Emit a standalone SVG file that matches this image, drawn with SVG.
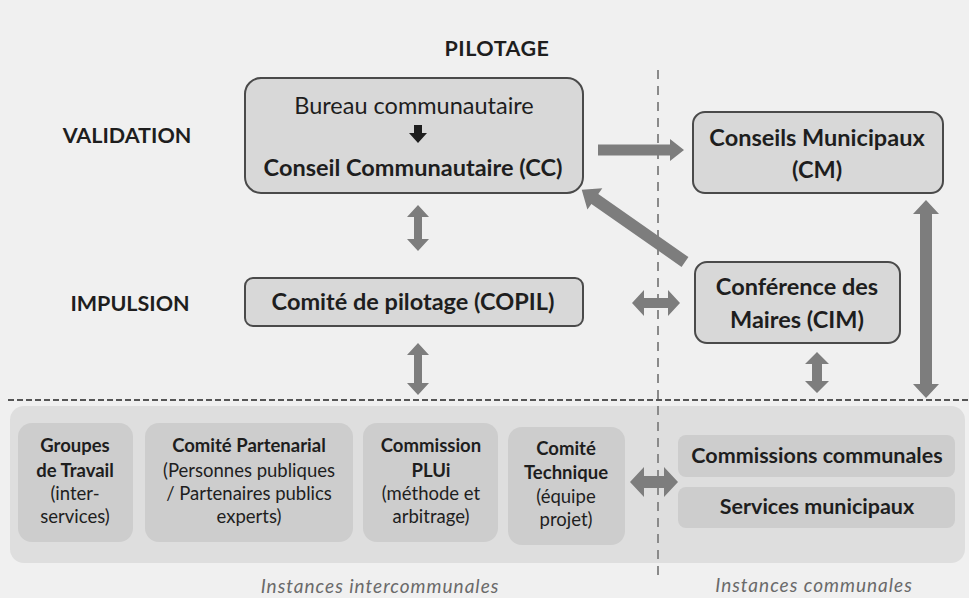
<svg xmlns="http://www.w3.org/2000/svg" width="969" height="598" viewBox="0 0 969 598">
<style>
text{font-family:Lato,"Open Sans","Liberation Sans",sans-serif;fill:#1e1e1e;text-anchor:middle}
.b{font-weight:bold}
.box{fill:#d8d8d8;stroke:#4a4a4a;stroke-width:2}
.inner{fill:#cdcdcd}
.arr{fill:#7d7d7d}
.foot{font-style:italic;fill:#6a6a6a;font-size:19px;letter-spacing:1px}
.lab{font-size:21.5px;font-weight:bold}
.sm{font-size:18.5px}
.m{font-size:23.5px}
</style>
<rect width="969" height="598" fill="#f0f0f0"/>
<g id="labels">
<text x="497" y="56" class="lab" font-size="23" letter-spacing="0.5">PILOTAGE</text>
<text x="127" y="143" class="lab">VALIDATION</text>
<text x="130" y="311" class="lab">IMPULSION</text>
</g>
<g id="zone-bottom">
<rect x="10" y="406" width="955" height="157" rx="14" fill="#dedede"/>
</g>
<g id="separators">
<line x1="658" y1="70" x2="658" y2="578" stroke="#8a8a8a" stroke-width="2" stroke-dasharray="9 7"/>
<line x1="8" y1="400" x2="969" y2="400" stroke="#555" stroke-width="2" stroke-dasharray="6 3"/>
</g>
<g id="cc">
<rect x="245" y="78" width="338" height="115" rx="16" class="box"/>
<text x="414" y="114" class="m">Bureau communautaire</text>
<polygon points="414,125 422,125 422,133 427,133 418,143 409,133 414,133" fill="#1e1e1e"/>
<text x="413" y="176" class="m b">Conseil Communautaire (CC)</text>
</g>
<g id="cm">
<rect x="693" y="112" width="250" height="81" rx="12" class="box"/>
<text x="817" y="146" class="m b">Conseils Municipaux</text>
<text x="817" y="178" class="m b">(CM)</text>
</g>
<g id="copil">
<rect x="245" y="278" width="338" height="48" rx="8" class="box" stroke="#1e1e1e" stroke-width="2.5"/>
<text x="413" y="310" class="m b">Comité de pilotage (COPIL)</text>
</g>
<g id="cim">
<rect x="695" y="262" width="205" height="81" rx="12" class="box"/>
<text x="797" y="295" class="m b">Conférence des</text>
<text x="797" y="328" class="m b">Maires (CIM)</text>
</g>
<g id="groupes">
<rect x="18" y="423" width="115" height="119" rx="14" class="inner"/>
<text x="75" y="452" class="sm b">Groupes</text>
<text x="75" y="477" class="sm b">de Travail</text>
<text x="75" y="500" class="sm">(inter-</text>
<text x="75" y="523" class="sm">services)</text>
</g>
<g id="partenarial">
<rect x="145" y="423" width="208" height="119" rx="14" class="inner"/>
<text x="249" y="452" class="sm b">Comité Partenarial</text>
<text x="249" y="477" class="sm">(Personnes publiques</text>
<text x="249" y="500" class="sm">/ Partenaires publics</text>
<text x="249" y="523" class="sm">experts)</text>
</g>
<g id="commission">
<rect x="363" y="423" width="135" height="119" rx="14" class="inner"/>
<text x="431" y="452" class="sm b">Commission</text>
<text x="431" y="477" class="sm b">PLUi</text>
<text x="431" y="500" class="sm">(méthode et</text>
<text x="431" y="523" class="sm">arbitrage)</text>
</g>
<g id="technique">
<rect x="508" y="427" width="117" height="118" rx="14" class="inner"/>
<text x="566" y="455" class="sm b">Comité</text>
<text x="566" y="479" class="sm b">Technique</text>
<text x="566" y="503" class="sm">(équipe</text>
<text x="566" y="526" class="sm">projet)</text>
</g>
<g id="commissions-communales">
<rect x="678" y="435" width="277" height="42" rx="8" class="inner"/>
<text x="817" y="463" font-size="21.5" class="b">Commissions communales</text>
</g>
<g id="services-municipaux">
<rect x="678" y="487" width="277" height="41" rx="8" class="inner"/>
<text x="817" y="514" font-size="21.5" class="b">Services municipaux</text>
</g>
<g id="footer">
<text x="380" y="593" class="foot">Instances intercommunales</text>
<text x="814" y="592" class="foot">Instances communales</text>
</g>
<g id="connectors">
<polygon class="arr" points="418,205 429,217 422,217 422,239 429,239 418,251 407,239 414,239 414,217 407,217"/>
<polygon class="arr" points="418,343 429,355 422,355 422,383 429,383 418,395 407,383 414,383 414,355 407,355"/>
<polygon class="arr" points="817,352 829,364 822,364 822,381 829,381 817,393 805,381 812,381 812,364 805,364"/>
<polygon class="arr" points="926,200 939,214 932,214 932,384 939,384 926,398 913,384 920,384 920,214 913,214"/>
<polygon class="arr" points="598,144.5 670,144.5 670,139 684,150 670,161 670,155.5 598,155.5"/>
<polygon class="arr" points="632,303 644,290 644,298 668,298 668,290 680,303 668,316 668,308 644,308 644,316"/>
<polygon class="arr" points="630,482 644,467 644,476 664,476 664,467 678,482 664,497 664,488 644,488 644,497"/>
<polygon class="arr" transform="translate(685,262) rotate(214.96)" points="0,-6 110,-6 110,-13 126,0 110,13 110,6 0,6"/>
</g>
</svg>
